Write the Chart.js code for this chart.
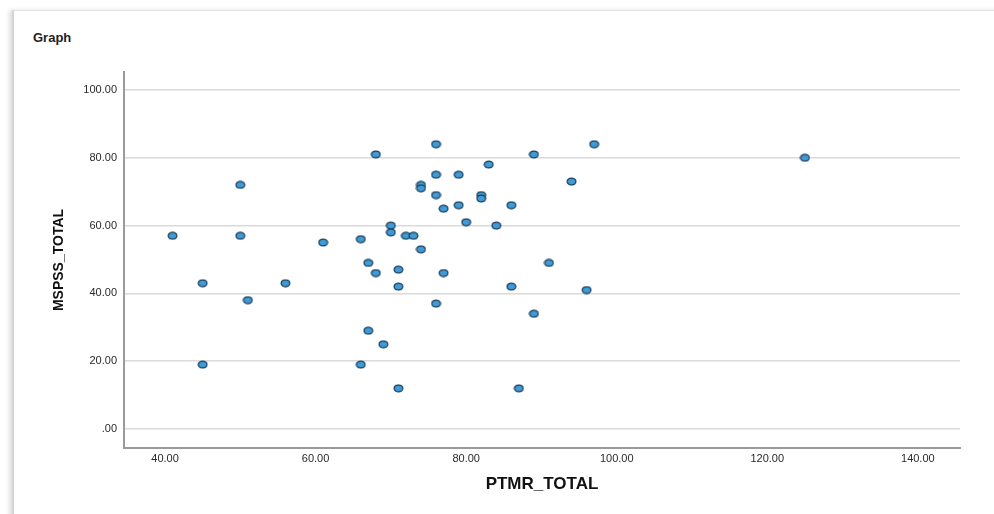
<!DOCTYPE html>
<html>
<head>
<meta charset="utf-8">
<script src="https://cdn.jsdelivr.net/npm/chart.js@4.4.1/dist/chart.umd.min.js"></script>
<style>
  html, body { margin: 0; padding: 0; background: #fff; }
  body { width: 994px; height: 514px; position: relative; overflow: hidden; font-family: "Liberation Sans", Arial, sans-serif; }
  #card {
    position: absolute; left: 12px; top: 10px; width: 1000px; height: 540px;
    border-top: 1px solid #e2e2e2; border-left: 2px solid #d4d4d4;
    box-shadow: -3px 0 4px rgba(0,0,0,0.12);
  }
  #title { position: absolute; left: 33px; top: 30px; font: bold 13px "Liberation Sans", Arial, sans-serif; color: #222; }
  #wrap { position: absolute; left: 0; top: 0; width: 994px; height: 514px; }
</style>
</head>
<body>
<div id="card"></div>
<div id="title">Graph</div>
<div id="wrap"><canvas id="scatter"></canvas></div>
<script>
// PTMR_TOTAL (x) / MSPSS_TOTAL (y)
const ptmr  = [41, 45, 45, 50, 50, 51, 56, 61, 66, 66, 67, 67, 68, 68, 69, 70, 70, 71, 71, 71, 72, 73, 74, 74,
               74, 76, 76, 76, 76, 77, 77, 79, 79, 80, 82, 82, 83, 84, 86, 86, 87, 89, 89, 91, 94, 96, 97, 125];
const mspss = [57, 43, 19, 72, 57, 38, 43, 55, 56, 19, 49, 29, 81, 46, 25, 60, 58, 47, 42, 12, 57, 57, 72, 71,
               53, 84, 75, 69, 37, 65, 46, 75, 66, 61, 69, 68, 78, 60, 66, 42, 12, 81, 34, 49, 73, 41, 84, 80];
const xTicks = [40, 60, 80, 100, 120, 140];
const yTicks = [0, 20, 40, 60, 80, 100];

// SPSS kind of flat ellipse marker
function makeMarker() {
    const c = document.createElement('canvas');
    c.width = 11; c.height = 9;
    const g = c.getContext('2d');
    g.beginPath();
    g.ellipse(5.5, 4.5, 4.4, 3.4, 0, 0, Math.PI * 2);
    g.fillStyle = '#3d9bd8';
    g.fill();
    g.lineWidth = 1.2;
    g.strokeStyle = '#1d3b57';
    g.stroke();
    return c;
}

const fmt = v => v === 0 ? '.00' : v.toFixed(2);
const tickFont = { family: '"Liberation Sans", Arial, sans-serif', size: 11 };

new Chart(document.getElementById('scatter'), {
    type: 'scatter',
    data: {
        datasets: [{
            data: ptmr.map((x, i) => ({ x: x, y: mspss[i] })),
            pointStyle: makeMarker(),
            pointRadius: 5,
            pointHoverRadius: 5
        }]
    },
    options: {
        responsive: true,
        maintainAspectRatio: false,
        animation: false,
        layout: { padding: { left: 20, top: 72, right: 34, bottom: 10 } },
        plugins: { legend: { display: false }, tooltip: { enabled: false } },
        scales: {
            x: {
                type: 'linear',
                min: 34.55, max: 145.6,
                afterBuildTicks: s => { s.ticks = xTicks.map(v => ({ value: v })); },
                afterFit: s => { s.height = 56; },
                grid: { display: false, drawTicks: false },
                border: { display: true, color: '#9a9a9a', width: 2 },
                ticks: { padding: 4, color: '#2a2a2a', font: tickFont, callback: fmt, maxRotation: 0 },
                title: {
                    display: true, text: 'PTMR_TOTAL', color: '#111',
                    font: { family: '"Liberation Sans", Arial, sans-serif', size: 17, weight: 'bold' },
                    padding: { top: 0, bottom: 9 }
                }
            },
            y: {
                type: 'linear',
                min: -5.6, max: 105.3,
                afterBuildTicks: s => { s.ticks = yTicks.map(v => ({ value: v })); },
                afterFit: s => { s.width = 104; },
                grid: { color: '#dadada', lineWidth: 1.5, drawTicks: false },
                border: { display: true, color: '#9a9a9a', width: 2 },
                ticks: { padding: 7, color: '#2a2a2a', font: tickFont, callback: fmt },
                title: {
                    display: true, text: 'MSPSS_TOTAL', color: '#111',
                    font: { family: '"Liberation Sans", Arial, sans-serif', size: 14, weight: 'bold' },
                    padding: { top: 31, bottom: 0 }
                }
            }
        }
    }
});
</script>
</body>
</html>
